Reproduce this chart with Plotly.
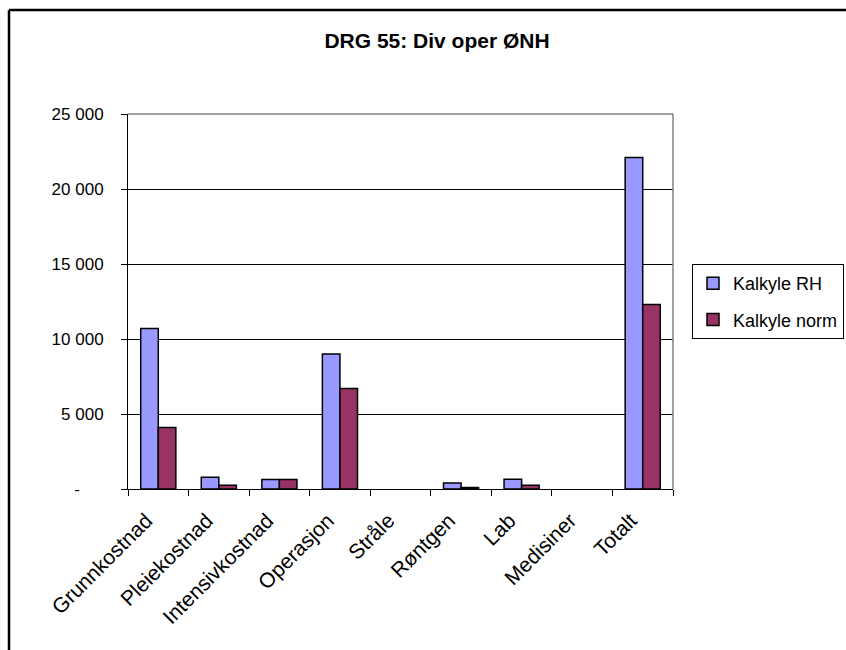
import plotly.graph_objects as go

# Cost components for DRG 55 (NOK)
categories = ["Grunnkostnad", "Pleiekostnad", "Intensivkostnad", "Operasjon",
              "Stråle", "Røntgen", "Lab", "Medisiner", "Totalt"]
kalkyle_rh = [10700, 780, 630, 9000, 0, 400, 650, 0, 22100]
kalkyle_norm = [4100, 250, 630, 6700, 0, 100, 250, 0, 12300]

y_tickvals = [0, 5000, 10000, 15000, 20000, 25000]
y_ticktext = ["-" + "\u00a0" * 5, "5 000", "10 000", "15 000", "20 000", "25 000"]

W, H = 846, 650
L, R, T, B = 128, 173, 114, 161

def px_x(x):
    return (x - L) / (W - L - R)

def px_y(y):
    return (H - B - y) / (H - T - B)

def outline(values):
    # empty bars get no outline
    return [1.5 if v else 0 for v in values]

font = "Liberation Sans, Arial, sans-serif"

fig = go.Figure()
fig.add_trace(go.Bar(
    name="Kalkyle RH", x=categories, y=kalkyle_rh, legendgroup="rh",
    marker=dict(color="#9999FF", line=dict(color="black", width=outline(kalkyle_rh))),
))
fig.add_trace(go.Bar(
    name="Kalkyle norm", x=categories, y=kalkyle_norm, legendgroup="norm",
    marker=dict(color="#993366", line=dict(color="black", width=outline(kalkyle_norm))),
))

fig.update_layout(
    width=W, height=H,
    margin=dict(l=L, r=R, t=T, b=B, pad=0, autoexpand=False),
    paper_bgcolor="white", plot_bgcolor="white",
    font=dict(family=font, size=16, color="black"),
    barmode="group", bargap=0.42, bargroupgap=0,
    title=dict(text="<b>DRG 55: Div oper ØNH</b>", font=dict(size=21),
               xref="container", x=437 / W, xanchor="center",
               yref="container", y=1 - 41 / H, yanchor="middle"),
    showlegend=True,
    legend=dict(x=px_x(692), y=px_y(264), xanchor="left", yanchor="top",
                bordercolor="black", borderwidth=1, bgcolor="white",
                font=dict(size=18), tracegroupgap=10, itemwidth=30),
    xaxis=dict(
        type="category", showline=True, linecolor="black", linewidth=1,
        ticks="outside", tickson="boundaries", ticklen=6, tickcolor="black",
        tickangle=-45, showgrid=False, tickfont=dict(size=21),
        ticklabelstandoff=10, ticklabelshift=-12,
    ),
    yaxis=dict(
        range=[0, 25000], tickvals=y_tickvals, ticktext=y_ticktext,
        showline=True, linecolor="black", linewidth=1,
        ticks="outside", ticklen=6, tickcolor="black",
        showgrid=True, gridcolor="black", gridwidth=1,
        ticklabelstandoff=14, tickfont=dict(size=17), zeroline=False,
    ),
    shapes=[
        # plot area border (top and right)
        dict(type="line", xref="paper", yref="paper", x0=0, x1=1, y0=1, y1=1,
             line=dict(color="#808080", width=1.5)),
        dict(type="line", xref="paper", yref="paper", x0=1, x1=1, y0=0, y1=1,
             line=dict(color="#808080", width=1.5)),
        # chart area frame
        dict(type="line", xref="paper", yref="paper",
             x0=px_x(9), x1=px_x(W + 5), y0=px_y(10), y1=px_y(10),
             line=dict(color="black", width=2.5)),
        dict(type="line", xref="paper", yref="paper",
             x0=px_x(9), x1=px_x(9), y0=px_y(10), y1=px_y(H + 5),
             line=dict(color="black", width=2.5)),
    ],
)

fig.write_html("out.html")
